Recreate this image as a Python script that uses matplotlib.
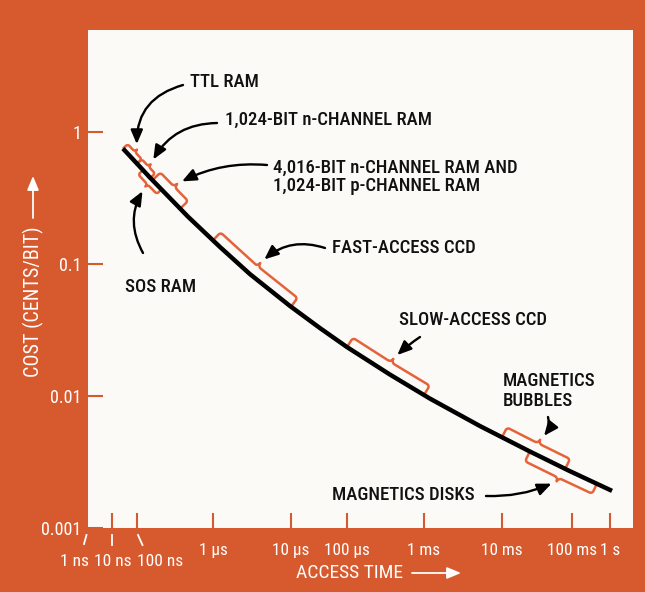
import os
import numpy as np
import matplotlib
matplotlib.use("Agg")
import matplotlib.pyplot as plt
from matplotlib import font_manager
from matplotlib.font_manager import FontProperties
from matplotlib.ticker import NullLocator

# --- data ---
access_time = [2.75e-8, 1.48e-7, 4.69e-7, 1.23e-6, 2.98e-6, 9.7e-6, 3.3e-5, 1.0e-4,
               3.61e-4, 1.19e-3, 5.22e-3, 2.51e-2, 9.36e-2, 1.13]
cost = [0.744, 0.449, 0.227, 0.1338, 0.0834, 0.0479, 0.03255, 0.0234,
        0.0145, 0.00954, 0.00591, 0.00379, 0.00269, 0.00191]

tick_times = [1e-9, 1e-8, 1e-7, 1e-6, 1e-5, 1e-4, 1e-3, 1e-2, 1e-1, 1.0]
tick_labels = ["1 ns", "10 ns", "100 ns", "1 \u00b5s", "10 \u00b5s", "100 \u00b5s",
               "1 ms", "10 ms", "100 ms", "1 s"]
cost_ticks = [1, 0.1, 0.01, 0.001]
cost_labels = ["1", "0.1", "0.01", "0.001"]

# access-time span covered by each technology bracket
techs = ["TTL RAM", "1,024-BIT n-CHANNEL RAM",
         "4,016-BIT n-CHANNEL RAM AND\n1,024-BIT p-CHANNEL RAM", "SOS RAM",
         "FAST-ACCESS CCD", "SLOW-ACCESS CCD", "MAGNETICS\nBUBBLES", "MAGNETICS DISKS"]
tech_start = [2.75e-8, 1.0e-7, 1.6e-7, 1.2e-7, 1.0e-6, 1.0e-4, 1.0e-2, 2.5e-2]
tech_end = [1.0e-7, 1.5e-7, 3.7e-7, 2.1e-7, 1.0e-5, 1.0e-3, 8.0e-2, 4.5e-1]
tech_side = [1, 1, 1, -1, 1, 1, 1, -1]

# --- layout ---
W, H = 645, 592
ORANGE = "#D75A2E"
BRACE = "#E5633A"
PANEL = "#FBFAF6"

# hand-drawn access-time axis: page x of each decade (log10 s)
axis_logs = [-9, -8, -7, -6, -5, -4, -3, -2, -1, 0, 0.6]
axis_px = [88, 112, 137, 213, 291, 347, 424, 502, 572, 610, 633]


def pick_font(prefs):
    files = [f.fname for f in font_manager.fontManager.ttflist]
    for p in prefs:
        for f in files:
            if os.path.basename(f).lower().startswith(p):
                return f
    return None


REGULAR = pick_font(["liberationsansnarrow-regular", "robotocondensed-regular",
                     "opensans_condensed-regular", "dejavusanscondensed.ttf",
                     "liberationsans-regular"])
MEDIUM = pick_font(["robotocondensed-medium", "opensans_condensed-medium",
                    "robotocondensed-regular"]) or REGULAR


def fprop(size, fname=None):
    fname = fname or REGULAR
    if fname:
        return FontProperties(fname=fname, size=size)
    return FontProperties(family="DejaVu Sans", stretch="condensed", size=size)


def fwd(t):
    t = np.asarray(t, dtype=float)
    return np.interp(np.log10(np.clip(t, 1e-30, None)), axis_logs, axis_px)


def inv(p):
    return 10 ** np.interp(p, axis_px, axis_logs)


def fp(x, y):
    # page pixel -> figure fraction
    return (x / W, 1 - y / H)


fig = plt.figure(figsize=(W / 100, H / 100), dpi=100, facecolor=ORANGE)
ax = fig.add_axes([88 / W, 64 / H, 545 / W, 498 / H])
ax.set_facecolor(PANEL)
for s in ax.spines.values():
    s.set_visible(False)

ax.set_xscale("function", functions=(fwd, inv))
ax.set_yscale("log")
ax.set_xlim(1e-9, 10 ** 0.6)
ax.set_ylim(1e-3, 10 ** 0.769)

ax.set_xticks(tick_times[1:], labels=["", ""] + tick_labels[3:])
ax.set_yticks(cost_ticks, labels=cost_labels)
ax.xaxis.set_minor_locator(NullLocator())
ax.yaxis.set_minor_locator(NullLocator())
ax.tick_params(axis="both", direction="in", length=11, width=1.5, color=ORANGE,
               labelcolor="white")
ax.tick_params(axis="x", pad=10.5)
ax.tick_params(axis="y", pad=4.5)
for lab in ax.get_xticklabels():
    lab.set_fontproperties(fprop(12.3))
for lab in ax.get_yticklabels():
    lab.set_fontproperties(fprop(13))

# ns labels spread out with slanted leaders
ns_label_px = [75, 113, 160]
leaders = [((86.5, 535), (84, 544)), ((112, 535), (112, 545)), ((138, 535), (142.5, 545))]
for lab, lx, (a, b) in zip(tick_labels[:3], ns_label_px, leaders):
    fig.text(*fp(lx, 562), lab, color="white", fontproperties=fprop(12.5),
             ha="center", va="center")
    fig.add_artist(plt.Line2D([a[0] / W, b[0] / W], [1 - a[1] / H, 1 - b[1] / H],
                              transform=fig.transFigure, color="white", lw=1.3))

# axis titles with arrows
head = "-|>,head_length=0.6,head_width=0.25"
fig.text(*fp(296, 573), "ACCESS TIME", color="white", fontproperties=fprop(14),
         ha="left", va="center")
ax.annotate("", xy=fp(461, 573), xycoords="figure fraction", xytext=fp(412, 573),
            textcoords="figure fraction",
            arrowprops=dict(arrowstyle=head, color="white", lw=1.3, mutation_scale=14,
                            shrinkA=0, shrinkB=0))
fig.text(*fp(33, 302), "COST (CENTS/BIT)", color="white", fontproperties=fprop(14.5),
         rotation=90, ha="center", va="center")
ax.annotate("", xy=fp(33, 176), xycoords="figure fraction", xytext=fp(33, 218),
            textcoords="figure fraction",
            arrowprops=dict(arrowstyle=head, color="white", lw=1.3, mutation_scale=14,
                            shrinkA=0, shrinkB=0))

# the cost curve
ax.plot(access_time, cost, color="black", lw=3.2, solid_capstyle="butt",
        solid_joinstyle="round", zorder=3)

# dense copy of the curve in display pixels, for the brackets
D = ax.transData.transform(np.column_stack([access_time, cost]))
dense = []
for p, q in zip(D[:-1], D[1:]):
    for f in np.linspace(0, 1, 30, endpoint=False):
        dense.append(p + f * (q - p))
dense.append(D[-1])
dense = np.array(dense)
seg = np.diff(dense, axis=0)
S = np.concatenate([[0], np.cumsum(np.hypot(seg[:, 0], seg[:, 1]))])
tang = np.vstack([seg, seg[-1:]])
tang = tang / np.hypot(tang[:, 0], tang[:, 1])[:, None]


def brace_local(L, h, t, r):
    pts = [(0.0, 1.0)]
    a = np.linspace(np.pi, np.pi / 2, 8)
    pts += list(zip(r + r * np.cos(a), h - r + r * np.sin(a)))
    m = L / 2
    a = np.linspace(-np.pi / 2, 0, 8)
    pts += list(zip(m - t + t * np.cos(a), h + t + t * np.sin(a)))
    a = np.linspace(np.pi, 1.5 * np.pi, 8)
    pts += list(zip(m + t + t * np.cos(a), h + t + t * np.sin(a)))
    a = np.linspace(np.pi / 2, 0, 8)
    pts += list(zip(L - r + r * np.cos(a), h - r + r * np.sin(a)))
    pts.append((L, 1.0))
    return np.array(pts)


def on_curve(s, v, side):
    P = np.column_stack([np.interp(s, S, dense[:, 0]), np.interp(s, S, dense[:, 1])])
    T = np.column_stack([np.interp(s, S, tang[:, 0]), np.interp(s, S, tang[:, 1])])
    T = T / np.hypot(T[:, 0], T[:, 1])[:, None]
    N = side * np.column_stack([-T[:, 1], T[:, 0]])
    return P + v[:, None] * N


tips = []
for t0, t1, side in zip(tech_start, tech_end, tech_side):
    x0 = fwd(t0) - axis_px[0] + ax.bbox.x0
    x1 = fwd(t1) - axis_px[0] + ax.bbox.x0
    s0 = np.interp(x0, dense[:, 0], S)
    s1 = np.interp(x1, dense[:, 0], S)
    L = s1 - s0
    small = L < 35
    h, tt, r = (6.5, 3.0, 2.5) if small else (11.0, 4.0, 3.0)
    uv = brace_local(L, h, tt, r)
    pts = on_curve(s0 + uv[:, 0], uv[:, 1], side)
    dat = ax.transData.inverted().transform(pts)
    ax.plot(dat[:, 0], dat[:, 1], color=BRACE, lw=1.8, zorder=2, solid_joinstyle="round")
    tip = on_curve(np.array([s0 + L / 2]), np.array([h + tt]), side)
    tips.append(ax.transData.inverted().transform(tip)[0])

# labels and pointers (page pixels)
label_px = [(190, 82), (225, 120), (273, 177), (125, 287),
            (332, 248), (399, 320), (503, 391), (332, 495)]
arrow_from = [(183, 85), (217, 123), (267, 165), (143, 253),
              (325, 248), (420, 337), (548, 417), (486, 496)]
arrow_rad = [0.4, 0.3, 0.15, -0.3, 0.3, 0.05, -0.3, 0.12]
line_sp = [1.0, 1.0, 1.0, 1.0, 1.0, 1.0, 1.1, 1.0]

for name, (lx, ly), (sx, sy), rad, tip, ls in zip(techs, label_px, arrow_from,
                                                   arrow_rad, tips, line_sp):
    fig.text(*fp(lx, ly), name, color="#111111", fontproperties=fprop(13.5, MEDIUM),
             ha="left", va="center", linespacing=ls)
    ax.annotate("", xy=tip, xycoords="data", xytext=fp(sx, sy),
                textcoords="figure fraction",
                arrowprops=dict(arrowstyle="-|>,head_length=0.7,head_width=0.3",
                                connectionstyle=f"arc3,rad={rad}", color="black",
                                lw=1.7, mutation_scale=12, shrinkA=0, shrinkB=4))

fig.savefig("out.png", dpi=100, facecolor=ORANGE)
